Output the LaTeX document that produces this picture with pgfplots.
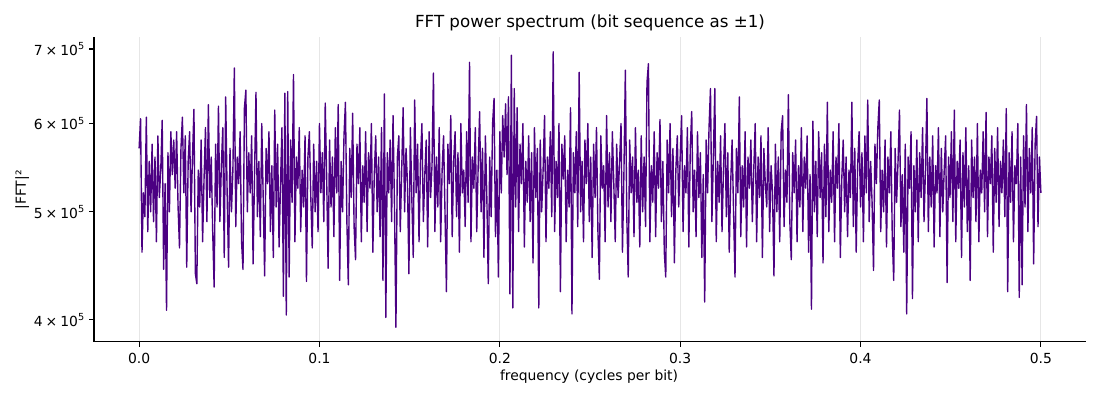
\documentclass[border=0pt]{standalone}
\usepackage{pgfplots}
\pgfplotsset{compat=1.18}
\usepackage{fontspec}
\setmainfont{DejaVu Sans}
\definecolor{indigo}{HTML}{4B0082}
\definecolor{gridgray}{HTML}{E6E6E6}
\newcommand{\tl}[1]{\mbox{\fontsize{10}{12}\selectfont #1\hspace{0.22em}×\hspace{0.22em}10\raisebox{0.42em}{\fontsize{7}{8}\selectfont 5}}}
\begin{document}
\begin{tikzpicture}
\path[use as bounding box] (-67.7pt,-41.8pt) rectangle (724.3pt,246.2pt);
\begin{axis}[
  at={(0,0)}, anchor=south west,
  scale only axis,
  width=714.2pt, height=219.6pt,
  ymode=log,
  xmin=-0.025, xmax=0.525,
  ymin=382300, ymax=717700,
  axis x line*=bottom, axis y line*=left,
  axis line style={-, line width=0.8pt, black},
  tick align=outside,
  major tick length=3.5pt,
  tick style={line width=0.8pt, black},
  xtick={0,0.1,0.2,0.3,0.4,0.5},
  xticklabels={\mbox{0.0},\mbox{0.1},\mbox{0.2},\mbox{0.3},\mbox{0.4},\mbox{0.5}},
  ytick={400000,500000,600000,700000},
  yticklabels={\tl{4},\tl{5},\tl{6},\tl{7}},
  yminorticks=false,
  xmajorgrids=true,
  grid style={gridgray, line width=0.8pt},
  tick label style={font=\fontsize{10}{12}\selectfont},
  xticklabel style={yshift=-1pt},
]
\addplot[color=indigo, line width=1pt, line join=round] table[x expr=\coordindex*0.0008, y expr=\thisrow{p}*1000, row sep=\\] {
p\\
570\\606\\460\\520\\495\\608\\480\\555\\500\\575\\490\\560\\470\\585\\515\\545\\604\\444\\530\\408\\565\\500\\590\\540\\580\\
525\\590\\505\\464\\570\\608\\520\\585\\446\\555\\590\\500\\560\\618\\440\\431\\545\\505\\580\\470\\535\\595\\490\\624\\515\\
560\\480\\428\\575\\505\\622\\490\\550\\595\\455\\634\\520\\446\\570\\500\\545\\673\\485\\560\\530\\590\\470\\444\\620\\643\\
500\\565\\520\\585\\449\\540\\640\\495\\555\\475\\600\\515\\438\\570\\530\\590\\480\\550\\455\\617\\505\\575\\465\\530\\595\\
420\\639\\404\\641\\437\\580\\510\\664\\470\\560\\525\\595\\480\\545\\505\\585\\433\\560\\590\\515\\464\\575\\500\\555\\480\\
600\\520\\565\\490\\626\\535\\445\\580\\505\\560\\475\\595\\520\\624\\434\\555\\500\\585\\627\\490\\430\\570\\515\\613\\485\\
453\\575\\530\\595\\470\\550\\510\\590\\480\\565\\525\\600\\460\\540\\585\\500\\560\\475\\595\\434\\638\\402\\565\\520\\580\\
490\\610\\505\\394\\560\\585\\480\\545\\620\\500\\570\\530\\440\\595\\515\\455\\630\\520\\575\\470\\555\\600\\490\\540\\580\\
465\\590\\515\\550\\666\\480\\560\\505\\595\\470\\545\\585\\500\\424\\575\\530\\610\\475\\555\\590\\495\\565\\460\\600\\520\\
545\\485\\590\\510\\681\\470\\560\\525\\595\\480\\550\\615\\500\\570\\455\\585\\515\\431\\560\\495\\600\\632\\475\\545\\437\\
590\\520\\610\\560\\625\\540\\634\\422\\691\\410\\645\\505\\620\\480\\575\\530\\600\\465\\555\\510\\585\\490\\565\\450\\595\\
515\\570\\410\\580\\500\\545\\610\\470\\560\\525\\590\\495\\696\\480\\555\\515\\600\\424\\575\\535\\585\\470\\545\\505\\620\\
405\\565\\520\\590\\485\\667\\500\\555\\470\\580\\530\\600\\490\\560\\455\\575\\515\\595\\480\\435\\585\\525\\550\\470\\610\\
505\\565\\490\\590\\530\\470\\575\\515\\555\\600\\460\\540\\670\\495\\437\\580\\520\\560\\475\\595\\510\\545\\465\\585\\500\\
560\\485\\653\\679\\470\\550\\510\\590\\475\\565\\525\\605\\490\\555\\460\\437\\580\\520\\600\\495\\570\\450\\545\\585\\505\\
560\\610\\480\\550\\520\\595\\465\\570\\615\\500\\545\\475\\590\\515\\565\\455\\540\\415\\580\\520\\595\\645\\490\\560\\645\\
470\\555\\510\\585\\480\\545\\600\\495\\565\\460\\530\\580\\500\\437\\570\\520\\634\\475\\550\\505\\590\\465\\560\\525\\580\\
490\\545\\600\\470\\560\\515\\585\\455\\570\\530\\505\\595\\480\\550\\520\\438\\575\\500\\560\\470\\590\\610\\485\\545\\510\\
637\\490\\453\\565\\520\\580\\470\\550\\505\\595\\480\\560\\525\\585\\460\\540\\409\\603\\500\\555\\475\\590\\515\\565\\450\\
575\\495\\627\\480\\545\\510\\590\\470\\560\\525\\600\\455\\535\\580\\500\\560\\475\\545\\515\\627\\485\\570\\460\\550\\590\\
505\\565\\470\\585\\520\\630\\490\\555\\510\\443\\575\\530\\595\\630\\480\\545\\500\\580\\465\\560\\520\\590\\475\\434\\570\\
510\\555\\617\\485\\540\\460\\575\\405\\560\\525\\590\\418\\550\\500\\580\\470\\565\\515\\595\\490\\545\\632\\480\\560\\505\\
585\\465\\550\\520\\595\\475\\570\\500\\545\\585\\432\\560\\515\\590\\490\\617\\470\\555\\525\\580\\455\\565\\505\\595\\480\\
550\\434\\580\\515\\560\\490\\600\\470\\545\\520\\590\\500\\614\\475\\560\\530\\585\\460\\570\\510\\595\\485\\555\\520\\580\\
495\\619\\424\\565\\510\\590\\470\\550\\530\\600\\419\\560\\430\\585\\505\\624\\480\\570\\520\\595\\449\\575\\609\\485\\560\\
520\\
};
\end{axis}
\node[font=\fontsize{12}{14}\selectfont, anchor=center] at (357.1pt,229.7pt) {FFT power spectrum (bit sequence as ±1)};
\node[font=\fontsize{10}{12}\selectfont, anchor=center] at (356.4pt,-25.2pt) {frequency (cycles per bit)};
\node[font=\fontsize{10}{12}\selectfont, anchor=center, rotate=90] at (-51.8pt,109.4pt) {|FFT|²};
\end{tikzpicture}
\end{document}
